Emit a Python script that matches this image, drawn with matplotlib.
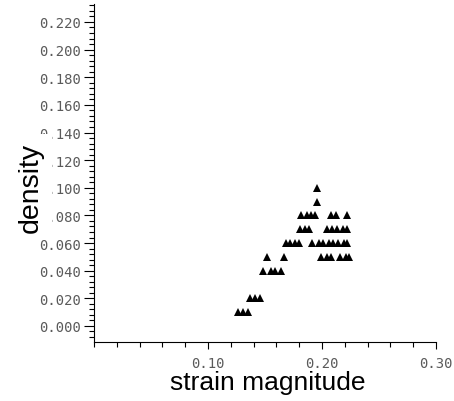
import matplotlib
matplotlib.use("Agg")
import matplotlib.pyplot as plt
from matplotlib.ticker import MultipleLocator, FormatStrFormatter, FixedLocator

# Observed (strain magnitude, density) pairs
strain = [
    0.126, 0.131, 0.135,
    0.137, 0.141, 0.146,
    0.148, 0.155, 0.159, 0.164,
    0.152, 0.167, 0.199, 0.204, 0.208, 0.216, 0.221, 0.224,
    0.168, 0.172, 0.176, 0.180, 0.191, 0.197, 0.201, 0.206, 0.210, 0.214, 0.219, 0.222,
    0.181, 0.185, 0.189, 0.204, 0.209, 0.213, 0.218, 0.222,
    0.182, 0.187, 0.190, 0.194, 0.208, 0.212, 0.222,
    0.196,
    0.196,
]
density = (
    [0.01] * 3
    + [0.02] * 3
    + [0.04] * 4
    + [0.05] * 8
    + [0.06] * 12
    + [0.07] * 8
    + [0.08] * 7
    + [0.09]
    + [0.10]
)

x_ticks = [0.10, 0.20, 0.30]
y_ticks = [0.00, 0.02, 0.04, 0.06, 0.08, 0.10, 0.12, 0.14, 0.16, 0.18, 0.20, 0.22]

fig = plt.figure(figsize=(4.54, 4.02), dpi=100)
ax = fig.add_axes([94 / 454, 1 - 343 / 402, (436 - 94) / 454, (343 - 5) / 402])

ax.plot(strain, density, linestyle="none", marker="^", markersize=5.6,
        color="black", markeredgewidth=0)

ax.set_xlim(0, 0.30)
ax.set_ylim(-0.0116, 0.233)

for side in ("top", "right"):
    ax.spines[side].set_visible(False)
for side in ("left", "bottom"):
    ax.spines[side].set_linewidth(0.8)

tick_font = dict(family="DejaVu Sans Mono", size=10, color="#5a5a5a")

ax.xaxis.set_major_locator(FixedLocator(x_ticks))
ax.xaxis.set_minor_locator(MultipleLocator(0.02))
ax.xaxis.set_major_formatter(FormatStrFormatter("%.2f"))
ax.yaxis.set_major_locator(FixedLocator(y_ticks))
ax.yaxis.set_minor_locator(MultipleLocator(0.004))
ax.yaxis.set_major_formatter(FormatStrFormatter("%.3f"))

ax.tick_params(axis="x", which="major", direction="out", length=5, width=0.8, pad=5)
ax.tick_params(axis="x", which="minor", direction="out", length=3.5, width=0.8)
ax.tick_params(axis="y", which="major", direction="out", length=7, width=0.8, pad=2)
ax.tick_params(axis="y", which="minor", direction="out", length=3.5, width=0.8)
for lab in ax.get_xticklabels() + ax.get_yticklabels():
    lab.set_fontfamily(tick_font["family"])
    lab.set_fontsize(tick_font["size"])
    lab.set_color(tick_font["color"])

ax.set_xlabel("strain magnitude", family="Liberation Sans", size=19, color="black")
ax.xaxis.set_label_coords((267.5 - 94) / 342, (343 - 371) / 338)
ax.set_ylabel("density", family="Liberation Sans", size=20.5, color="black",
              bbox=dict(facecolor="white", edgecolor="none", pad=6))
ax.yaxis.set_label_coords((31 - 94) / 342, (343 - 188) / 338)
ax.yaxis.label.set_verticalalignment("center")

fig.savefig("out.png", dpi=100)
